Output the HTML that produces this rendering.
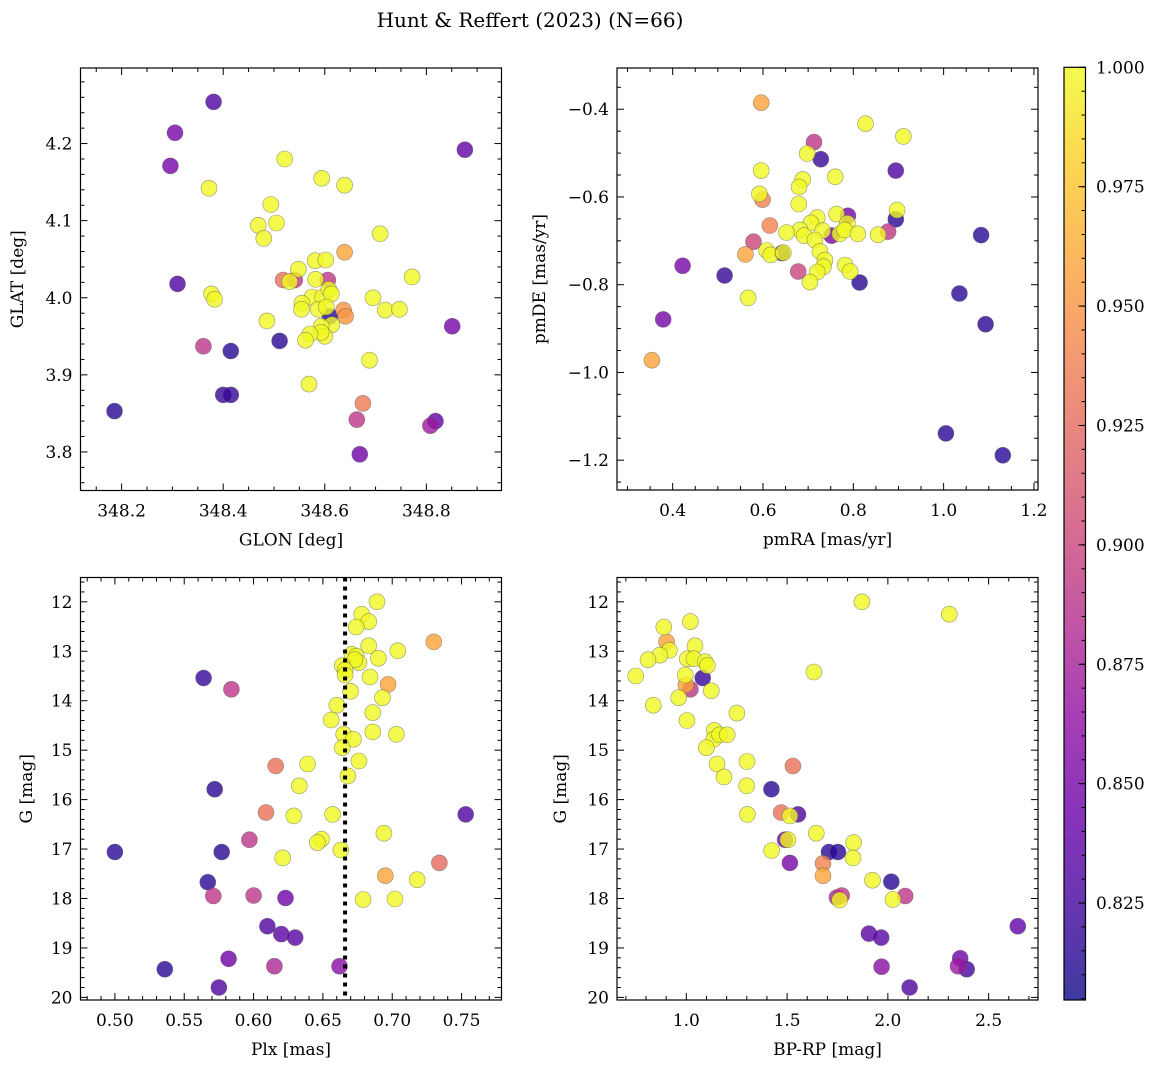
<!DOCTYPE html>
<html><head><meta charset="utf-8">
<style>
html,body{margin:0;padding:0;background:#fff;}
svg text{font-family:"DejaVu Serif","Liberation Serif",serif;fill:#000;}
</style></head>
<body>
<svg id="fig" width="1161" height="1067" viewBox="0 0 1161 1067" xmlns="http://www.w3.org/2000/svg">
<text x="530" y="27" font-size="20" text-anchor="middle">Hunt &amp; Reffert (2023) (N=66)</text>
</svg>
<script>
// Panel 1: GLON vs GLAT
const p1Glon=[348.381,348.305,348.296,348.876,348.372,348.521,348.594,348.639,348.494,348.469,348.505,348.480,348.709,348.639,348.581,348.602,348.548,348.772,348.310,348.518,348.541,348.531,348.582,348.606,348.377,348.383,348.575,348.596,348.608,348.613,348.695,348.555,348.554,348.587,348.603,348.637,348.641,348.610,348.719,348.747,348.614,348.486,348.851,348.593,348.600,348.593,348.571,348.562,348.511,348.361,348.415,348.688,348.569,348.400,348.415,348.186,348.675,348.663,348.808,348.818,348.669];
const p1Glat=[4.254,4.214,4.171,4.192,4.142,4.180,4.155,4.146,4.121,4.094,4.097,4.077,4.083,4.059,4.048,4.049,4.037,4.027,4.018,4.023,4.023,4.021,4.024,4.023,4.005,3.998,4.001,4.001,4.011,4.005,4.000,3.993,3.985,3.985,3.988,3.984,3.976,3.976,3.984,3.985,3.965,3.970,3.963,3.963,3.950,3.955,3.953,3.945,3.944,3.937,3.931,3.919,3.888,3.874,3.874,3.853,3.863,3.842,3.834,3.840,3.797];
const p1Prob=[0.83,0.85,0.85,0.84,1,1,1,1,1,1,1,1,1,0.96,1,1,1,1,0.83,0.93,0.89,1,1,0.89,1,1,1,1,1,1,1,1,1,1,1,0.95,0.95,0.815,1,1,1,1,0.85,1,1,1,1,1,0.815,0.89,0.815,1,1,0.82,0.82,0.815,0.935,0.89,0.87,0.84,0.845];
// Panel 2: pmRA vs pmDE
const p2PmRA=[0.596,0.827,0.911,0.713,0.728,0.698,0.596,0.760,0.894,0.688,0.680,0.592,0.599,0.679,0.897,0.894,0.788,0.763,0.720,0.706,0.787,0.615,0.732,0.682,0.752,0.770,0.781,0.810,0.855,0.877,1.083,0.652,0.691,0.715,0.579,0.608,0.617,0.642,0.645,0.561,0.726,0.737,0.734,0.782,0.422,0.793,0.678,0.720,0.515,0.704,0.814,1.035,0.567,0.379,1.093,0.354,1.005,1.131];
const p2PmDE=[-0.385,-0.433,-0.462,-0.475,-0.514,-0.501,-0.540,-0.554,-0.540,-0.560,-0.577,-0.593,-0.606,-0.616,-0.630,-0.651,-0.643,-0.639,-0.647,-0.659,-0.660,-0.665,-0.677,-0.675,-0.688,-0.684,-0.675,-0.684,-0.686,-0.679,-0.687,-0.681,-0.688,-0.698,-0.702,-0.722,-0.732,-0.728,-0.727,-0.731,-0.724,-0.744,-0.759,-0.755,-0.757,-0.770,-0.770,-0.771,-0.779,-0.794,-0.795,-0.820,-0.830,-0.879,-0.890,-0.972,-1.139,-1.189];
const p2Prob=[0.96,1,1,0.89,0.82,1,1,1,0.83,1,1,1,0.94,1,1,0.815,0.85,1,1,1,1,0.94,1,1,0.85,1,1,1,1,0.89,0.815,1,1,1,0.9,1,1,0.82,1,0.96,1,1,1,1,0.85,1,0.9,1,0.82,1,0.815,0.815,1,0.85,0.815,0.96,0.815,0.815];
// Panel 3: Plx vs G
const p3Plx=[0.689,0.678,0.683,0.674,0.730,0.683,0.704,0.671,0.674,0.676,0.673,0.690,0.664,0.666,0.666,0.564,0.684,0.697,0.584,0.670,0.693,0.660,0.686,0.656,0.686,0.703,0.665,0.672,0.664,0.639,0.616,0.676,0.668,0.633,0.572,0.609,0.629,0.657,0.753,0.694,0.597,0.649,0.646,0.663,0.500,0.577,0.621,0.734,0.695,0.718,0.567,0.571,0.600,0.623,0.679,0.702,0.610,0.620,0.630,0.582,0.615,0.662,0.536,0.575];
const p3G=[12.00,12.25,12.40,12.51,12.81,12.89,12.99,13.06,13.10,13.23,13.17,13.14,13.29,13.38,13.48,13.54,13.52,13.67,13.77,13.81,13.94,14.09,14.24,14.39,14.63,14.68,14.68,14.78,14.95,15.28,15.32,15.22,15.52,15.72,15.79,16.26,16.33,16.30,16.30,16.68,16.81,16.80,16.87,17.02,17.06,17.06,17.18,17.28,17.54,17.62,17.67,17.95,17.94,17.99,18.02,18.01,18.56,18.72,18.79,19.22,19.37,19.37,19.43,19.80];
const p3Prob=[1,1,1,1,0.96,1,1,1,1,1,1,1,1,1,1,0.82,1,0.96,0.89,1,1,1,1,1,1,1,1,1,1,1,0.93,1,1,1,0.815,0.93,1,1,0.83,1,0.89,1,1,1,0.815,0.815,1,0.925,0.96,1,0.815,0.89,0.89,0.845,1,1,0.83,0.835,0.835,0.845,0.88,0.86,0.815,0.83];
const plxMean=0.666;
// Panel 4: BP-RP vs G
const p4Bprp=[1.871,2.305,0.888,1.020,0.902,1.043,0.916,0.868,0.810,1.005,1.038,1.093,1.104,1.633,0.749,0.995,1.081,0.998,1.020,1.124,0.962,0.836,1.251,1.003,1.139,1.136,1.165,1.203,1.099,1.152,1.529,1.187,1.301,1.299,1.422,1.554,1.471,1.514,1.303,1.645,1.490,1.504,1.830,1.423,1.708,1.752,1.827,1.514,1.678,1.678,1.924,2.017,2.086,2.025,1.747,1.771,1.761,2.645,1.906,1.967,1.969,2.359,2.348,2.391,2.108];
const p4G=[12.00,12.25,12.51,12.40,12.81,12.89,12.98,13.08,13.17,13.15,13.15,13.21,13.29,13.42,13.50,13.48,13.54,13.68,13.77,13.80,13.94,14.09,14.25,14.40,14.60,14.78,14.69,14.69,14.95,15.28,15.32,15.54,15.23,15.72,15.79,16.30,16.26,16.33,16.30,16.68,16.81,16.81,16.87,17.03,17.06,17.06,17.18,17.28,17.29,17.54,17.63,17.66,17.95,18.02,17.98,17.94,18.03,18.56,18.71,18.79,19.38,19.21,19.37,19.43,19.80];
const p4Prob=[1,1,1,1,0.96,1,1,1,1,1,1,1,1,1,1,1,0.82,0.96,0.89,1,1,1,1,1,1,1,1,1,1,1,0.93,1,1,1,0.815,0.83,0.93,1,1,1,0.85,1,1,1,0.815,0.815,1,0.85,0.94,0.96,1,0.815,0.89,1,0.88,0.89,1,0.84,0.835,0.835,0.86,0.845,0.87,0.825,0.83];
const cbTicks=[0.825,0.850,0.875,0.900,0.925,0.950,0.975,1.000];

const VMIN=0.8047, VMAX=1.0;
const PLASMA=[[13,8,135],[65,4,157],[106,0,168],[143,13,164],[177,42,144],[204,71,120],[225,100,98],[242,132,75],[252,166,54],[252,206,37],[240,249,33]];
function plasma(t){t=Math.max(0,Math.min(1,t));const f=t*10,i=Math.min(9,Math.floor(f)),u=f-i;const a=PLASMA[i],b=PLASMA[i+1];return 'rgb('+a.map((v,k)=>Math.round(v+(b[k]-v)*u)).join(',')+')';}
const NS='http://www.w3.org/2000/svg';
const svg=document.getElementById('fig');
function mk(tag,attrs,parent){const e=document.createElementNS(NS,tag);for(const k in attrs)e.setAttribute(k,attrs[k]);(parent||svg).appendChild(e);return e;}
function fmt(v,d){const s=Math.abs(v).toFixed(d);return (v<-1e-9?'\u2212':'')+s;}
const FS=17;

function panel(c){
  const g=mk('g',{});
  
  
  const sx=v=>c.px0+(v-c.xmin)/(c.xmax-c.xmin)*(c.px1-c.px0);
  const sy=v=>c.py1-(v-c.ymin)/(c.ymax-c.ymin)*(c.py1-c.py0);
  const syI=v=>c.py0+(v-c.ymin)/(c.ymax-c.ymin)*(c.py1-c.py0);
  const Y=c.invert?syI:sy;
  const idx=c.x.map((_,i)=>i).sort((a,b)=>c.p[a]-c.p[b]);
  const pg=mk('g',{},g);
  
  
  idx.forEach(i=>{
    const ci=mk('circle',{cx:sx(c.x[i]).toFixed(1),cy:Y(c.y[i]).toFixed(1),r:8,fill:plasma((c.p[i]-VMIN)/(VMAX-VMIN)),'fill-opacity':0.8,stroke:'#555','stroke-opacity':0.6,'stroke-width':0.6},pg);
    
    
  });
  if(c.vline!==undefined){
    const l=mk('line',{x1:sx(c.vline),x2:sx(c.vline),y1:c.py0,y2:c.py1,stroke:'#000','stroke-width':4,'stroke-dasharray':'4,5'},g);
    
    
  }
  mk('rect',{x:c.px0,y:c.py0,width:c.px1-c.px0,height:c.py1-c.py0,fill:'none',stroke:'#000','stroke-width':1.2},g);
  const tk=mk('g',{stroke:'#000','stroke-width':1},g);
  const xt=mk('g',{},g);
  
  
  const nmin=Math.ceil(c.xmin/c.xminor-1e-6),nmax=Math.floor(c.xmax/c.xminor+1e-6);
  for(let n=nmin;n<=nmax;n++){const v=n*c.xminor;const maj=Math.abs(v/c.xmajor-Math.round(v/c.xmajor))<1e-6;const L=maj?7:4;const X=sx(v);
    mk('line',{x1:X,x2:X,y1:c.py1,y2:c.py1-L},tk);mk('line',{x1:X,x2:X,y1:c.py0,y2:c.py0+L},tk);
    if(maj){const t=mk('text',{x:X,y:c.py1+26,'font-size':FS,'text-anchor':'middle'},xt);t.textContent=fmt(v,c.xd);}}
  const yt=mk('g',{},g);
  
  
  const mmin=Math.ceil(c.ymin/c.yminor-1e-6),mmax=Math.floor(c.ymax/c.yminor+1e-6);
  for(let n=mmin;n<=mmax;n++){const v=n*c.yminor;const maj=Math.abs(v/c.ymajor-Math.round(v/c.ymajor))<1e-6;const L=maj?7:4;const YY=Y(v);
    mk('line',{x1:c.px0,x2:c.px0+L,y1:YY,y2:YY},tk);mk('line',{x1:c.px1,x2:c.px1-L,y1:YY,y2:YY},tk);
    if(maj){const t=mk('text',{x:c.px0-8,y:YY+6,'font-size':FS,'text-anchor':'end'},yt);t.textContent=fmt(v,c.yd);}}
  const xl=mk('text',{x:(c.px0+c.px1)/2,y:c.py1+55,'font-size':FS,'text-anchor':'middle'},g);
  xl.textContent=c.xlabel;
  
  
  const cy=(c.py0+c.py1)/2;
  const yl=mk('text',{x:c.ylx,y:cy,'font-size':FS,'text-anchor':'middle',transform:'rotate(-90 '+c.ylx+' '+cy+')'},g);
  yl.textContent=c.ylabel;
  
  
}

panel({name:'glon-glat-panel',x:p1Glon,y:p1Glat,p:p1Prob,px0:80.5,px1:501.5,py0:68,py1:490.5,xmin:348.119,xmax:348.948,ymin:3.750,ymax:4.298,xmajor:0.2,xminor:0.05,xd:1,ymajor:0.1,yminor:0.02,yd:1,xlabel:'GLON [deg]',ylabel:'GLAT [deg]',ylx:23});
panel({name:'proper-motion-panel',x:p2PmRA,y:p2PmDE,p:p2Prob,px0:617,px1:1038,py0:68,py1:490,xmin:0.2767,xmax:1.209,ymin:-1.268,ymax:-0.306,xmajor:0.2,xminor:0.05,xd:1,ymajor:0.2,yminor:0.05,yd:1,xlabel:'pmRA [mas/yr]',ylabel:'pmDE [mas/yr]',ylx:545});
panel({name:'parallax-magnitude-panel',x:p3Plx,y:p3G,p:p3Prob,px0:80.5,px1:501.5,py0:577.5,py1:1000,xmin:0.4752,xmax:0.7788,ymin:11.508,ymax:20.053,invert:true,xmajor:0.05,xminor:0.01,xd:2,ymajor:1,yminor:0.2,yd:0,xlabel:'Plx [mas]',ylabel:'G [mag]',ylx:32,vline:plxMean});
panel({name:'color-magnitude-panel',x:p4Bprp,y:p4G,p:p4Prob,px0:617,px1:1038,py0:577.5,py1:1000,xmin:0.656,xmax:2.745,ymin:11.508,ymax:20.053,invert:true,xmajor:0.5,xminor:0.1,xd:1,ymajor:1,yminor:0.2,yd:0,xlabel:'BP-RP [mag]',ylabel:'G [mag]',ylx:566});

const cb=mk('g',{});


const defs=mk('defs',{},cb);
const lg=mk('linearGradient',{id:'pl',x1:0,y1:1,x2:0,y2:0},defs);
PLASMA.forEach((c,i)=>mk('stop',{offset:i/10,'stop-color':'rgb('+c.join(',')+')','stop-opacity':0.8},lg));
const CB0=67.3,CB1=1000,cbY=v=>CB1-(v-VMIN)/(VMAX-VMIN)*(CB1-CB0);
mk('rect',{x:1064,y:CB0,width:21.5,height:CB1-CB0,fill:'url(#pl)',stroke:'#000','stroke-width':1.2},cb);
for(let n=Math.ceil(VMIN/0.005);n<=200;n++){const v=n*0.005;const YY=cbY(v);mk('line',{x1:1085.5,x2:1081.5,y1:YY,y2:YY,stroke:'#000','stroke-width':1},cb);}
cbTicks.forEach(v=>{const YY=cbY(v);mk('line',{x1:1085.5,x2:1078.5,y1:YY,y2:YY,stroke:'#000','stroke-width':1},cb);
  const t=mk('text',{x:1096,y:YY+6,'font-size':FS},cb);t.textContent=v.toFixed(3);
  
  });
</script>
</body></html>
